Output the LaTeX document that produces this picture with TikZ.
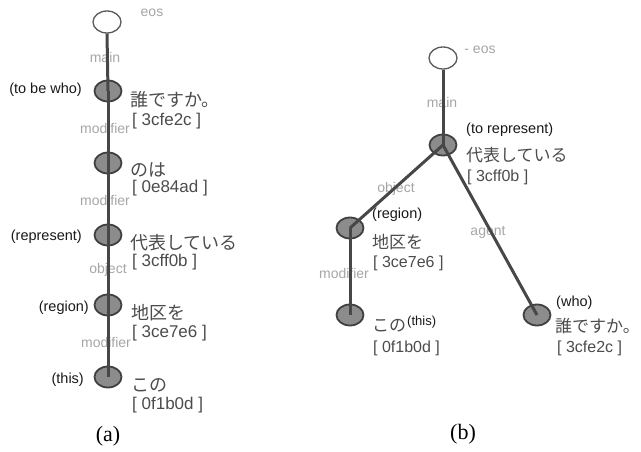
\documentclass[tikz,border=0pt]{standalone}
\usepackage{fontspec}
\setmainfont{Liberation Serif}
\newfontfamily\latsans{Liberation Sans}
\newfontfamily\jpfont{Noto Sans CJK JP}
\usetikzlibrary{shapes.geometric}
\begin{document}
\begin{tikzpicture}[x=1pt,y=-1pt,
  word/.style={ellipse, draw=black!75, line width=1.8pt, fill=black!45,
    minimum width=27pt, minimum height=21pt, inner sep=0pt},
  root/.style={ellipse, draw=black!65, line width=1.3pt, fill=white,
    minimum width=28pt, minimum height=22pt, inner sep=0pt},
  link/.style={line width=3pt, draw=black!72},
  rel/.style={font=\latsans\fontsize{14}{16}\selectfont, text=black!35, inner sep=0pt},
  gloss/.style={font=\latsans\fontsize{14.5}{16}\selectfont, text=black!90, inner sep=0pt},
  smallgloss/.style={font=\latsans\fontsize{13}{15}\selectfont, text=black!90, inner sep=0pt},
  jwordA/.style={font=\jpfont\fontsize{18}{20}\selectfont, text=black!70, inner sep=0pt, anchor=west},
  jwordB/.style={font=\jpfont\fontsize{17}{19}\selectfont, text=black!70, inner sep=0pt, anchor=west},
  tagA/.style={font=\latsans\fontsize{17}{19}\selectfont, text=black!70, inner sep=0pt, anchor=west},
  tagB/.style={font=\latsans\fontsize{16}{18}\selectfont, text=black!70, inner sep=0pt, anchor=west},
  caption/.style={font=\fontsize{22}{24}\selectfont, inner sep=0pt}]
\useasboundingbox[fill=white] (0,0) rectangle (641,452);

% ---------- (a): chain of dependencies ----------
\node[rel] (eosA-t) at (152,13) {eos};
\node[rel] (mainA) at (105,57) {main};
\node[rel] (modA1) at (105,128) {modifier};
\node[rel] (modA2) at (105,200) {modifier};
\node[rel] (objA) at (108,270) {object};
\node[rel] (modA3) at (106,342) {modifier};

\node[root] (eosA) at (107,22) {};
\node[word] (a1) at (108,91) {};
\node[word] (a2) at (108,163) {};
\node[word] (a3) at (108,235) {};
\node[word] (a4) at (108,305) {};
\node[word] (a5) at (108,377) {};

\draw[link] (eosA.south) -- (a1.center);
\draw[link] (a1.center) -- (a2.center);
\draw[link] (a2.center) -- (a3.center);
\draw[link] (a3.center) -- (a4.center);
\draw[link] (a4.center) -- (a5.center);

\node[gloss, anchor=east] (a1-g) at (82,90) {(to be who)};
\node[gloss, anchor=east] (a3-g) at (82,237) {(represent)};
\node[gloss, anchor=east] (a4-g) at (89,308) {(region)};
\node[gloss, anchor=east] (a5-g) at (84,380) {(this)};

\node[jwordA] (a1-w) at (130,100) {誰ですか。};
\node[tagA] (a1-id) at (132,121) {[ 3cfe2c ]};
\node[jwordA] (a2-w) at (130,170) {のは};
\node[tagA] (a2-id) at (132,188) {[ 0e84ad ]};
\node[jwordA] (a3-w) at (130,243) {代表している};
\node[tagA] (a3-id) at (132,262) {[ 3cff0b ]};
\node[jwordA] (a4-w) at (131,313) {地区を};
\node[tagA] (a4-id) at (132,333) {[ 3ce7e6 ]};
\node[jwordA] (a5-w) at (131,385) {この};
\node[tagA] (a5-id) at (132,405) {[ 0f1b0d ]};

\node[caption] (capA) at (108,436) {(a)};

% ---------- (b): dependency tree ----------
\node[rel] (eosB-t) at (480,50) {- eos};
\node[rel] (mainB) at (442,102) {main};
\node[rel] (objB) at (396,189) {object};
\node[rel] (modB) at (344,273) {modifier};
\node[rel] (agtB) at (488,232) {agent};

\node[root] (eosB) at (443,58) {};
\node[word] (b1) at (443,145) {};
\node[word] (b2) at (350,228) {};
\node[word] (b3) at (350,315) {};
\node[word] (b4) at (537,315) {};

\draw[link] (eosB.south) -- (b1.center);
\draw[link] (b1.center) -- (b2.center);
\draw[link] (b2.center) -- (b3.center);
\draw[link] (b1.center) -- (b4.center);

\node[gloss, anchor=west] (b1-g) at (466,130) {(to represent)};
\node[jwordB] (b1-w) at (466,155) {代表している};
\node[tagB] (b1-id) at (467,177) {[ 3cff0b ]};

\node[gloss, anchor=west] (b2-g) at (372,215) {(region)};
\node[jwordB] (b2-w) at (372,242) {地区を};
\node[tagB] (b2-id) at (373,263) {[ 3ce7e6 ]};

\node[jwordB] (b3-w) at (372,326) {この};
\node[smallgloss, anchor=west] (b3-g) at (407,322) {(this)};
\node[tagB] (b3-id) at (373,348) {[ 0f1b0d ]};

\node[gloss, anchor=west] (b4-g) at (556,303) {(who)};
\node[jwordB] (b4-w) at (555,326) {誰ですか。};
\node[tagB] (b4-id) at (557,348) {[ 3cfe2c ]};

\node[caption] (capB) at (463,434) {(b)};
\end{tikzpicture}
\end{document}
